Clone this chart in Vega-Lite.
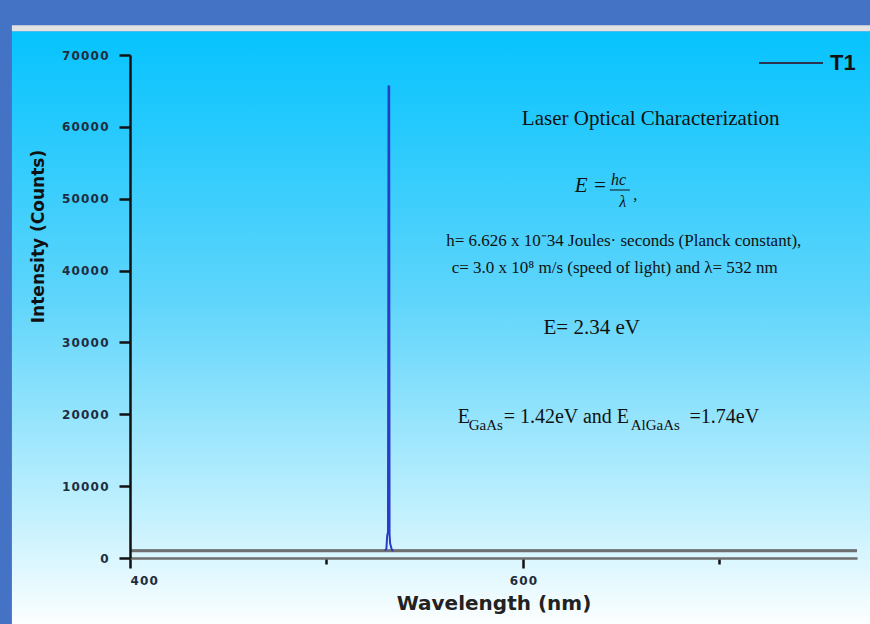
{
  "$schema": "https://vega.github.io/schema/vega-lite/v6.json",
  "width": 727,
  "height": 503,
  "autosize": "none",
  "padding": {"left": 130, "top": 55, "right": 13, "bottom": 66},
  "background": "#4472C4",
  "config": {"view": {"stroke": null}},
  "datasets": {
    "baseline": [
      {"wl": 400, "counts": 1000, "series": "T1"},
      {"wl": 770, "counts": 1000, "series": "T1"}
    ],
    "peak": [
      {"wl": 529.8, "counts": 1000},
      {"wl": 530.5, "counts": 1300},
      {"wl": 530.9, "counts": 3100},
      {"wl": 531.3, "counts": 3600},
      {"wl": 531.6, "counts": 65600},
      {"wl": 531.9, "counts": 65600},
      {"wl": 532.1, "counts": 3300},
      {"wl": 532.4, "counts": 2000},
      {"wl": 532.8, "counts": 1600},
      {"wl": 533.3, "counts": 1100},
      {"wl": 534.2, "counts": 1000}
    ],
    "notes": [
      {"kind": "title", "text": "Laser Optical Characterization", "wl": 665.0, "cnt": 61094},
      {"kind": "formulaE", "text": "E =", "wl": 634.5, "cnt": 51771},
      {"kind": "formula", "text": "hc", "wl": 648.7, "cnt": 52606},
      {"kind": "formula", "text": "λ", "wl": 650.8, "cnt": 49544},
      {"kind": "formula", "text": ",", "wl": 657.2, "cnt": 50519},
      {"kind": "body", "text": "h= 6.626 x 10⁻34 Joules· seconds (Planck constant),", "wl": 651.3, "cnt": 44117},
      {"kind": "body", "text": "c= 3.0 x 10⁸ m/s (speed of light) and λ= 532 nm", "wl": 646.7, "cnt": 40359},
      {"kind": "energy", "text": "E= 2.34 eV", "wl": 635.0, "cnt": 32008},
      {"kind": "big", "text": "E", "wl": 566.8, "cnt": 19623},
      {"kind": "sub", "text": "GaAs", "wl": 572.4, "cnt": 18509},
      {"kind": "big", "text": "= 1.42eV and E", "wl": 590.2, "cnt": 19623},
      {"kind": "sub", "text": "AlGaAs", "wl": 654.8, "cnt": 18509},
      {"kind": "big", "text": "=1.74eV", "wl": 684.8, "cnt": 19623}
    ]
  },
  "layer": [
    {
      "data": {"values": [{}]},
      "mark": {"type": "rect", "clip": false, "fill": {"gradient": "linear", "x1": 0, "y1": 0, "x2": 0, "y2": 1, "stops": [{"offset": 0, "color": "#06C3FE"}, {"offset": 0.45, "color": "#5FD5FB"}, {"offset": 0.8, "color": "#C0F0FE"}, {"offset": 1, "color": "#FFFFFF"}]}},
      "encoding": {
        "x": {"datum": 339.9, "type": "quantitative", "scale": {"domain": [400, 770], "nice": false, "zero": false}},
        "x2": {"datum": 782},
        "y": {"datum": 73300, "type": "quantitative", "scale": {"domain": [0, 70000], "nice": false}},
        "y2": {"datum": -10000}
      }
    },
    {
      "data": {"values": [{}]},
      "mark": {"type": "rect", "clip": false, "fill": "#E2E2E2"},
      "encoding": {
        "x": {"datum": 339.9, "type": "quantitative"},
        "x2": {"datum": 782},
        "y": {"datum": 74130, "type": "quantitative"},
        "y2": {"datum": 73300}
      }
    },
    {
      "data": {"name": "baseline"},
      "mark": {"type": "line", "strokeWidth": 2.5},
      "encoding": {
        "x": {
          "field": "wl", "type": "quantitative",
          "scale": {"domain": [400, 770], "nice": false, "zero": false},
          "axis": {
            "title": "Wavelength (nm)",
            "values": [400, 500, 600, 700],
            "labelExpr": "datum.value % 200 === 0 ? join(split(datum.label, ''), '\u200A') : ''",
            "tickSize": {"condition": {"test": "datum.value % 200 === 0", "value": 10}, "value": 6},
            "tickColor": "#111111", "tickWidth": 2.5,
            "domainColor": "#6E6E6E", "domainWidth": 2.5,
            "labelFont": "DejaVu Sans", "labelFontWeight": "bold", "labelFontSize": 12, "labelColor": "#1F2D3D",
            "labelPadding": 7,
            "titleFont": "DejaVu Sans", "titleFontWeight": "bold", "titleFontSize": 20, "titleColor": "#222222", "titlePadding": 7,
            "grid": false, "zindex": 1
          }
        },
        "y": {
          "field": "counts", "type": "quantitative",
          "scale": {"domain": [0, 70000], "nice": false},
          "axis": {
            "title": "Intensity (Counts)",
            "values": [0, 5000, 10000, 15000, 20000, 25000, 30000, 35000, 40000, 45000, 50000, 55000, 60000, 65000, 70000],
            "format": "d",
            "labelExpr": "datum.value % 10000 === 0 ? join(split(datum.label, ''), '\u200A') : ''",
            "tickSize": {"condition": {"test": "datum.value % 10000 === 0", "value": 11}, "value": 5},
            "tickColor": "#111111", "tickWidth": 2.5,
            "domainColor": "#111111", "domainWidth": 2.5,
            "labelFont": "DejaVu Sans", "labelFontWeight": "bold", "labelFontSize": 12, "labelColor": "#1F2D3D",
            "labelPadding": 11,
            "titleFont": "DejaVu Sans", "titleFontWeight": "bold", "titleFontSize": 17, "titleColor": "#111111", "titlePadding": 14,
            "titleY": 181,
            "grid": false, "zindex": 1
          }
        },
        "color": {
          "field": "series", "type": "nominal",
          "scale": {"domain": ["T1"], "range": ["#2B3550"]},
          "legend": {
            "title": null, "orient": "none", "legendX": 628, "legendY": -25,
            "symbolType": "stroke", "symbolSize": 4096, "symbolStrokeWidth": 1.8,
            "labelFont": "Liberation Sans", "labelFontWeight": "bold", "labelFontSize": 22, "labelColor": "#111111",
            "labelOffset": 6, "padding": 0, "zindex": 1
          }
        }
      }
    },
    {
      "data": {"name": "baseline"},
      "mark": {"type": "line", "color": "#707070", "strokeWidth": 2.8},
      "encoding": {
        "x": {"field": "wl", "type": "quantitative"},
        "y": {"field": "counts", "type": "quantitative"}
      }
    },
    {
      "data": {"name": "peak"},
      "mark": {"type": "line", "color": "#2A3CC8", "strokeWidth": 2},
      "encoding": {
        "x": {"field": "wl", "type": "quantitative"},
        "y": {"field": "counts", "type": "quantitative"}
      }
    },
    {
      "data": {"values": [{}]},
      "mark": {"type": "rule", "color": "#111111", "strokeWidth": 1, "clip": false},
      "encoding": {
        "x": {"datum": 644.2, "type": "quantitative"},
        "x2": {"datum": 654.4},
        "y": {"datum": 51214, "type": "quantitative"}
      }
    },
    {
      "data": {"name": "notes"},
      "transform": [{"filter": "datum.kind === 'title'"}],
      "mark": {"type": "text", "font": "Liberation Serif", "fontSize": 21, "color": "#111111", "align": "center", "baseline": "middle", "clip": false},
      "encoding": {"x": {"field": "wl", "type": "quantitative"}, "y": {"field": "cnt", "type": "quantitative"}, "text": {"field": "text"}}
    },
    {
      "data": {"name": "notes"},
      "transform": [{"filter": "datum.kind === 'formulaE'"}],
      "mark": {"type": "text", "font": "Liberation Serif", "fontSize": 21, "fontStyle": "italic", "color": "#111111", "align": "center", "baseline": "middle", "clip": false},
      "encoding": {"x": {"field": "wl", "type": "quantitative"}, "y": {"field": "cnt", "type": "quantitative"}, "text": {"field": "text"}}
    },
    {
      "data": {"name": "notes"},
      "transform": [{"filter": "datum.kind === 'formula'"}],
      "mark": {"type": "text", "font": "Liberation Serif", "fontSize": 16, "fontStyle": "italic", "color": "#111111", "align": "center", "baseline": "middle", "clip": false},
      "encoding": {"x": {"field": "wl", "type": "quantitative"}, "y": {"field": "cnt", "type": "quantitative"}, "text": {"field": "text"}}
    },
    {
      "data": {"name": "notes"},
      "transform": [{"filter": "datum.kind === 'body'"}],
      "mark": {"type": "text", "font": "Liberation Serif", "fontSize": 17, "color": "#111111", "align": "center", "baseline": "middle", "clip": false},
      "encoding": {"x": {"field": "wl", "type": "quantitative"}, "y": {"field": "cnt", "type": "quantitative"}, "text": {"field": "text"}}
    },
    {
      "data": {"name": "notes"},
      "transform": [{"filter": "datum.kind === 'energy'"}],
      "mark": {"type": "text", "font": "Liberation Serif", "fontSize": 21, "color": "#111111", "align": "center", "baseline": "middle", "clip": false},
      "encoding": {"x": {"field": "wl", "type": "quantitative"}, "y": {"field": "cnt", "type": "quantitative"}, "text": {"field": "text"}}
    },
    {
      "data": {"name": "notes"},
      "transform": [{"filter": "datum.kind === 'big'"}],
      "mark": {"type": "text", "font": "Liberation Serif", "fontSize": 20, "color": "#111111", "align": "left", "baseline": "middle", "clip": false},
      "encoding": {"x": {"field": "wl", "type": "quantitative"}, "y": {"field": "cnt", "type": "quantitative"}, "text": {"field": "text"}}
    },
    {
      "data": {"name": "notes"},
      "transform": [{"filter": "datum.kind === 'sub'"}],
      "mark": {"type": "text", "font": "Liberation Serif", "fontSize": 15, "color": "#111111", "align": "left", "baseline": "middle", "clip": false},
      "encoding": {"x": {"field": "wl", "type": "quantitative"}, "y": {"field": "cnt", "type": "quantitative"}, "text": {"field": "text"}}
    }
  ]
}
